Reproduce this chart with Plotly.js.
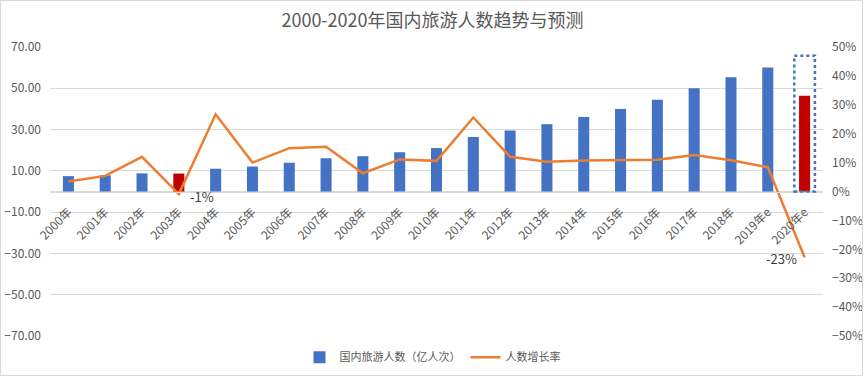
<!DOCTYPE html>
<html>
<head>
<meta charset="utf-8">
<script src="https://cdn.plot.ly/plotly-3.0.1.min.js"></script>
<style>
  html, body { margin: 0; padding: 0; background: #fff; }
  #wrap { position: relative; width: 865px; height: 376px; }
  #chart { width: 865px; height: 376px; }
  #frame { position: absolute; left: 0; top: 0; width: 861px; height: 374px;
           border: 1px solid #d9d9d9; pointer-events: none; }
</style>
</head>
<body>
<div id="wrap"><div id="chart"></div><div id="frame"></div></div>
<script>
// ---- data ----
const categories = ['2000年','2001年','2002年','2003年','2004年','2005年','2006年','2007年','2008年','2009年',
  '2010年','2011年','2012年','2013年','2014年','2015年','2016年','2017年','2018年','2019年e','2020年e'];
const tourists = [7.44, 7.84, 8.78, 8.70, 11.02, 12.12, 13.94, 16.10, 17.12, 19.02,
  21.03, 26.41, 29.57, 32.62, 36.11, 40.00, 44.40, 50.01, 55.39, 60.06, 46.40];
const growth = [3.5, 5.4, 12.0, -0.9, 26.7, 10.0, 15.0, 15.5, 6.3, 11.1,
  10.6, 25.6, 12.0, 10.3, 10.7, 10.8, 11.0, 12.6, 10.8, 8.4, -22.8];
const highlighted = ['2003年', '2020年e'];
const forecastBox = {category: '2020年e', top: 65.8};
const seriesNames = ['国内旅游人数（亿人次）', '人数增长率'];
const chartTitle = '2000-2020年国内旅游人数趋势与预测';

// ---- styles ----
const BLUE = '#4472C4', RED = '#C00000', ORANGE = '#ED7D31', GRID = '#d9d9d9', TXT = '#595959';
const FONT = '"Noto Sans CJK SC", "Noto Sans", sans-serif';

const barColors = categories.map(c => highlighted.includes(c) ? RED : BLUE);

const traces = [
  {
    type: 'bar', x: categories, y: tourists, name: seriesNames[0],
    marker: {color: barColors, line: {width: 0}},
    width: 0.3, yaxis: 'y', hoverinfo: 'x+y'
  },
  {
    type: 'scatter', mode: 'lines', x: categories, y: growth, name: seriesNames[1],
    line: {color: ORANGE, width: 2.5}, yaxis: 'y2'
  }
];

// annotations for negative growth points
const annotations = [];
categories.forEach((c, i) => {
  if (growth[i] < 0) {
    const last = i === categories.length - 1;
    annotations.push({
      x: c, y: growth[i], xref: 'x', yref: 'y2',
      text: Math.round(growth[i]) + '%', showarrow: false,
      xanchor: last ? 'right' : 'left', yanchor: 'middle',
      xshift: last ? -6 : 9, yshift: last ? -1 : -2,
      font: {family: FONT, size: 13, color: '#404040'}
    });
  }
});

const boxIdx = categories.indexOf(forecastBox.category);

const layout = {
  width: 865, height: 376,
  margin: {l: 50, r: 42, t: 47, b: 40, autoexpand: false},
  paper_bgcolor: '#fff', plot_bgcolor: '#fff',
  font: {family: FONT, color: TXT, size: 12},
  title: {text: chartTitle, x: 0.5, xanchor: 'center', y: 0.945, yanchor: 'middle',
          font: {family: FONT, size: 18, color: TXT}},
  showlegend: true,
  legend: {orientation: 'h', x: 0.5, xanchor: 'center', xref: 'container',
           y: 0.05, yanchor: 'middle', yref: 'container',
           font: {family: FONT, size: 11, color: TXT}, itemwidth: 30, traceorder: 'normal'},
  bargap: 0.7,
  xaxis: {
    type: 'category', anchor: 'free', position: 0.5,
    tickangle: -45, tickfont: {family: FONT, size: 12, color: TXT},
    showgrid: false, zeroline: false, showline: true, linecolor: GRID, linewidth: 1,
    ticks: '', ticklabelstandoff: 8, range: [-0.5, categories.length - 0.5]
  },
  yaxis: {
    range: [-70, 70], tick0: 10, dtick: 20, tickformat: '.2f',
    showgrid: true, gridcolor: GRID, gridwidth: 1,
    zeroline: true, zerolinecolor: GRID, zerolinewidth: 1,
    showline: false, ticks: '', ticklabelstandoff: 8,
    tickfont: {family: FONT, size: 12, color: TXT}
  },
  yaxis2: {
    overlaying: 'y', side: 'right', range: [-50, 50], dtick: 10, ticksuffix: '%',
    showgrid: false, zeroline: false, showline: false, ticks: '', ticklabelstandoff: 8,
    tickfont: {family: FONT, size: 12, color: TXT}
  },
  shapes: [{
    type: 'rect', xref: 'x', yref: 'y',
    x0: boxIdx - 0.28, x1: boxIdx + 0.28, y0: 0, y1: forecastBox.top,
    line: {color: BLUE, width: 2.5, dash: 'dot'}, fillcolor: 'rgba(0,0,0,0)'
  }],
  annotations: annotations
};

Plotly.newPlot('chart', traces, layout, {displayModeBar: false, staticPlot: true});
</script>
</body>
</html>
